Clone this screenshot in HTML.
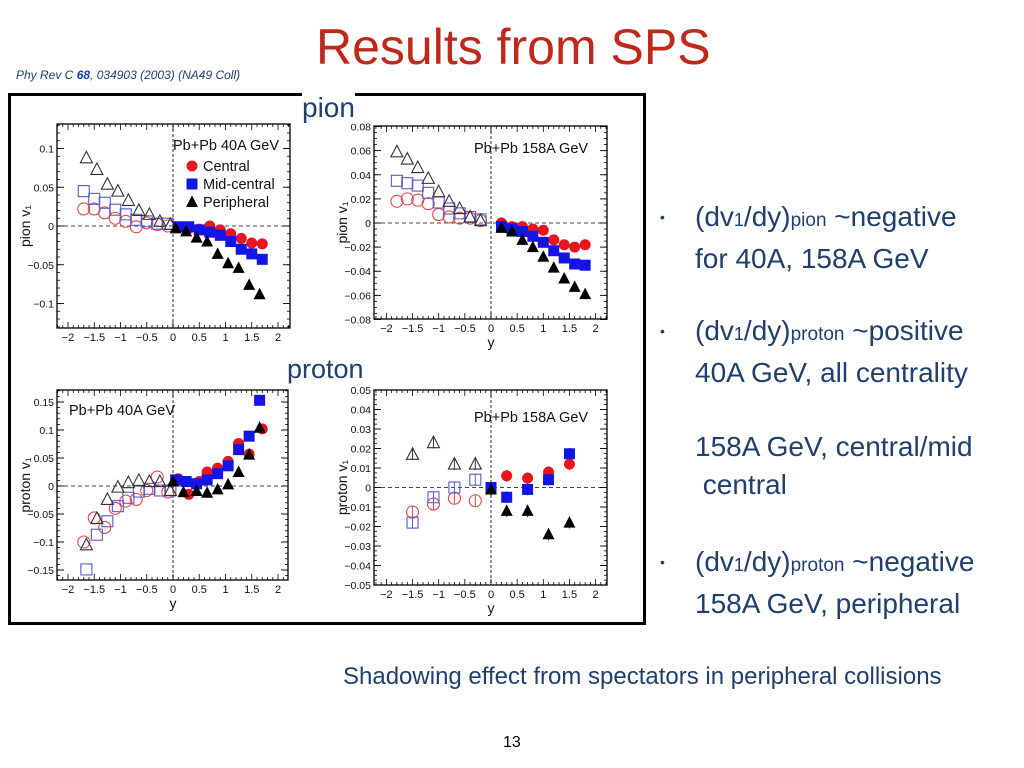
<!DOCTYPE html>
<html><head><meta charset="utf-8">
<style>
html,body{margin:0;padding:0;background:#fff;}
body{width:1024px;height:768px;position:relative;overflow:hidden;font-family:"Liberation Sans",Arial,sans-serif;}
.t{position:absolute;white-space:nowrap;}
.b{color:#1f3f6f;font-size:28px;line-height:38px;}
</style></head><body>
<div class="t" style="left:316px;top:18px;font-size:50px;color:#c0281c;">Results from SPS</div>
<div class="t" style="left:16px;top:68px;font-size:12px;font-style:italic;color:#1f3f6f;">Phy Rev C <b style="color:#1a3fbf">68</b>, 034903 (2003) (NA49 Coll)</div>
<div style="position:absolute;left:8px;top:93px;width:632px;height:526px;border:3px solid #000;"></div>
<svg id="fig" width="1024" height="768" style="position:absolute;left:0;top:0;"></svg>
<div class="t" style="left:302px;top:92px;font-size:28px;color:#1f3f6f;background:#fff;">pion</div>
<div class="t" style="left:287px;top:354px;font-size:27px;color:#1f3f6f;background:#fff;">proton</div>
<div class="t b" style="left:660px;top:198px;"><span style="font-size:14px;position:absolute;left:0;top:0">•</span><span style="margin-left:35px">(dv<span style="font-size:18px">1</span>/dy)<span style="font-size:19px">pion</span> ~negative</span><br><span style="margin-left:35px">for 40A, 158A GeV</span></div>
<div class="t b" style="left:660px;top:312px;"><span style="font-size:14px;position:absolute;left:0;top:0">•</span><span style="margin-left:35px">(dv<span style="font-size:18px">1</span>/dy)<span style="font-size:19px">proton</span> ~positive</span><br><span style="margin-left:35px">40A GeV, all centrality</span></div>
<div class="t b" style="left:695px;top:428px;">158A GeV, central/mid<br>&nbsp;central</div>
<div class="t b" style="left:660px;top:543px;"><span style="font-size:14px;position:absolute;left:0;top:0">•</span><span style="margin-left:35px">(dv<span style="font-size:18px">1</span>/dy)<span style="font-size:19px">proton</span> ~negative</span><br><span style="margin-left:35px">158A GeV, peripheral</span></div>
<div class="t" style="left:343px;top:663px;font-size:24px;color:#1f3f6f;">Shadowing effect from spectators in peripheral collisions</div>
<div class="t" style="left:503px;top:734px;font-size:16px;color:#000;">13</div>
<script>
// Panel 1: pion 40A
const p1CenX=[0.1,0.3,0.5,0.7,0.9,1.1,1.3,1.5,1.7];
const p1CenY=[-0.002,-0.003,-0.004,0.0,-0.005,-0.01,-0.016,-0.022,-0.023];
const p1MidX=[0.1,0.3,0.5,0.7,0.9,1.1,1.3,1.5,1.7];
const p1MidY=[-0.001,-0.001,-0.005,-0.008,-0.012,-0.02,-0.03,-0.036,-0.043];
const p1PerX=[0.05,0.25,0.45,0.65,0.85,1.05,1.25,1.45,1.65];
const p1PerY=[-0.003,-0.007,-0.015,-0.02,-0.036,-0.048,-0.054,-0.076,-0.088];
const p1oCenX=[-1.7,-1.5,-1.3,-1.1,-0.9,-0.7,-0.5,-0.3,-0.1];
const p1oCenY=[0.022,0.022,0.017,0.01,0.006,-0.001,0.004,0.002,0.0];
const p1oMidX=[-1.7,-1.5,-1.3,-1.1,-0.9,-0.7,-0.5,-0.3,-0.1];
const p1oMidY=[0.045,0.035,0.03,0.021,0.015,0.008,0.006,0.003,0.003];
const p1oPerX=[-1.65,-1.45,-1.25,-1.05,-0.85,-0.65,-0.45,-0.25,-0.05];
const p1oPerY=[0.088,0.073,0.054,0.045,0.033,0.02,0.015,0.006,0.002];
// Panel 2: pion 158A
const p2CenX=[0.2,0.4,0.6,0.8,1.0,1.2,1.4,1.6,1.8];
const p2CenY=[0.0,-0.003,-0.003,-0.005,-0.006,-0.014,-0.018,-0.02,-0.018];
const p2MidX=[0.2,0.4,0.6,0.8,1.0,1.2,1.4,1.6,1.8];
const p2MidY=[-0.003,-0.005,-0.007,-0.011,-0.016,-0.023,-0.029,-0.034,-0.035];
const p2PerX=[0.2,0.4,0.6,0.8,1.0,1.2,1.4,1.6,1.8];
const p2PerY=[-0.004,-0.007,-0.014,-0.02,-0.028,-0.037,-0.046,-0.053,-0.059];
const p2oCenX=[-1.8,-1.6,-1.4,-1.2,-1.0,-0.8,-0.6,-0.4,-0.2];
const p2oCenY=[0.018,0.02,0.019,0.016,0.007,0.005,0.004,0.004,0.002];
const p2oMidX=[-1.8,-1.6,-1.4,-1.2,-1.0,-0.8,-0.6,-0.4,-0.2];
const p2oMidY=[0.035,0.033,0.031,0.025,0.017,0.012,0.008,0.005,0.003];
const p2oPerX=[-1.8,-1.6,-1.4,-1.2,-1.0,-0.8,-0.6,-0.4,-0.2];
const p2oPerY=[0.059,0.053,0.046,0.037,0.026,0.018,0.012,0.005,0.002];
// Panel 3: proton 40A
const p3CenX=[0.1,0.3,0.5,0.65,0.85,1.05,1.25,1.45,1.7];
const p3CenY=[0.013,-0.015,0.008,0.025,0.032,0.044,0.076,0.057,0.102];
const p3MidX=[0.05,0.25,0.45,0.65,0.85,1.05,1.25,1.45,1.65];
const p3MidY=[0.011,0.008,0.004,0.011,0.022,0.036,0.065,0.089,0.153];
const p3PerX=[0.0,0.2,0.45,0.65,0.85,1.05,1.25,1.45,1.65];
const p3PerY=[0.008,-0.011,-0.009,-0.012,-0.006,0.003,0.025,0.056,0.104];
const p3oCenX=[-1.7,-1.5,-1.3,-1.1,-0.9,-0.7,-0.5,-0.3,-0.1];
const p3oCenY=[-0.1,-0.057,-0.074,-0.04,-0.027,-0.024,-0.008,0.016,-0.011];
const p3oMidX=[-1.65,-1.45,-1.25,-1.05,-0.85,-0.65,-0.45,-0.25,-0.05];
const p3oMidY=[-0.149,-0.087,-0.063,-0.036,-0.021,-0.01,-0.005,-0.008,-0.008];
const p3oPerX=[-1.65,-1.45,-1.25,-1.05,-0.85,-0.65,-0.45,-0.25,-0.05];
const p3oPerY=[-0.105,-0.058,-0.024,-0.002,0.006,0.01,0.008,0.008,-0.008];
// Panel 4: proton 158A
const p4CenX=[0.3,0.7,1.1,1.5];
const p4CenY=[0.006,0.0048,0.0079,0.012];
const p4MidX=[0.0,0.3,0.7,1.1,1.5];
const p4MidY=[0.0,-0.005,-0.001,0.004,0.0173];
const p4PerX=[0.0,0.3,0.7,1.1,1.5];
const p4PerY=[-0.001,-0.012,-0.012,-0.024,-0.018];
const p4oCenX=[-1.5,-1.1,-0.7,-0.3];
const p4oCenY=[-0.0126,-0.0085,-0.0055,-0.0068];
const p4oMidX=[-1.5,-1.1,-0.7,-0.3];
const p4oMidY=[-0.018,-0.005,0.0,0.004];
const p4oPerX=[-1.5,-1.1,-0.7,-0.3];
const p4oPerY=[0.017,0.023,0.012,0.012];
const xTickVals=[-2,-1.5,-1,-0.5,0,0.5,1,1.5,2];
const xTickLabels=["\u22122","\u22121.5","\u22121","\u22120.5","0","0.5","1","1.5","2"];
const p1YTicks=[-0.1,-0.05,0,0.05,0.1];
const p1YLabels=["\u22120.1","\u22120.05","0","0.05","0.1"];
const p2YTicks=[-0.08,-0.06,-0.04,-0.02,0,0.02,0.04,0.06,0.08];
const p2YLabels=["\u22120.08","\u22120.06","\u22120.04","\u22120.02","0","0.02","0.04","0.06","0.08"];
const p3YTicks=[-0.15,-0.1,-0.05,0,0.05,0.1,0.15];
const p3YLabels=["\u22120.15","\u22120.1","\u22120.05","0","0.05","0.1","0.15"];
const p4YTicks=[-0.05,-0.04,-0.03,-0.02,-0.01,0,0.01,0.02,0.03,0.04,0.05];
const p4YLabels=["\u22120.05","\u22120.04","\u22120.03","\u22120.02","\u22120.01","0","0.01","0.02","0.03","0.04","0.05"];

const NS="http://www.w3.org/2000/svg";
const svg=document.getElementById('fig');
function mk(tag,attrs,parent,text){const e=document.createElementNS(NS,tag);for(const k in attrs)e.setAttribute(k,attrs[k]);if(text!==undefined)e.textContent=text;(parent||svg).appendChild(e);return e;}

function panel(name,L,T,R,B,x0,xs,y0,ys,yT,yL,ytitle,label,lx,ly,series,err,showY,minorStep){
  const g=mk('g',{});
  
  
  const X=v=>x0+v*xs, Y=v=>y0-v*ys;
  const fr=mk('rect',{x:L,y:T,width:R-L,height:B-T,fill:'#fff',stroke:'#000','stroke-width':1.3},g);
  
  
  // zero lines
  mk('line',{x1:L,x2:R,y1:Y(0),y2:Y(0),stroke:'#444','stroke-dasharray':'4,3','stroke-width':0.9},g);
  mk('line',{x1:X(0),x2:X(0),y1:T,y2:B,stroke:'#666','stroke-dasharray':'3,2','stroke-width':1.4},g);
  // x ticks
  for(let v=-2.2;v<=2.21;v+=0.1){const x=X(+v.toFixed(1));if(x<L||x>R)continue;const major=Math.abs(v*2-Math.round(v*2))<1e-6;const len=major?6:3;
    mk('line',{x1:x,x2:x,y1:B,y2:B-len,stroke:'#000','stroke-width':0.8},g);mk('line',{x1:x,x2:x,y1:T,y2:T+len,stroke:'#000','stroke-width':0.8},g);}
  xTickVals.forEach((v,i)=>{const t=mk('text',{x:X(v),y:B+13,'font-size':11,'text-anchor':'middle',fill:'#111'},g,xTickLabels[i]);
    
    });
  // y ticks
  for(let k=Math.ceil((Y(0)-B)/ys/minorStep);k*minorStep<=(Y(0)-T)/ys+1e-9;k++){const y=Y(k*minorStep);
    mk('line',{x1:L,x2:L+3,y1:y,y2:y,stroke:'#000','stroke-width':0.8},g);mk('line',{x1:R,x2:R-3,y1:y,y2:y,stroke:'#000','stroke-width':0.8},g);}
  yT.forEach((v,i)=>{const y=Y(v);mk('line',{x1:L,x2:L+7,y1:y,y2:y,stroke:'#000','stroke-width':0.9},g);mk('line',{x1:R,x2:R-7,y1:y,y2:y,stroke:'#000','stroke-width':0.9},g);
    const t=mk('text',{x:L-3,y:y+4,'font-size':10.5,'text-anchor':'end',fill:'#111'},g,yL[i]);
    
    });
  const yt=mk('text',{x:0,y:0,'font-size':14,'text-anchor':'middle',fill:'#111',transform:`translate(${L-27},${(T+B)/2}) rotate(-90)`},g,ytitle);
  
  
  if(showY){const xt=mk('text',{x:X(0),y:B+28,'font-size':14,'text-anchor':'middle',fill:'#111'},g,'y');
    
    }
  const lb=mk('text',{x:lx,y:ly,'font-size':14.5,fill:'#111'},g,label);
  
  
  series.forEach(s=>{s.xs.forEach((xv,i)=>{const cx=X(xv),cy=Y(s.ys[i]);
    if(err){mk('line',{x1:cx,x2:cx,y1:Y(s.ys[i]+err),y2:Y(s.ys[i]-err),stroke:s.c,'stroke-width':1},g);}
    const m=marker(s.kind,s.open,s.c,cx,cy,g);
    
    });});
}
function marker(kind,open,c,cx,cy,g){
  const fill=open?'none':c, sw=open?1.1:0;
  if(kind==='c')return mk('circle',{cx:cx,cy:cy,r:open?6:5.5,fill:fill,stroke:c,'stroke-width':sw},g);
  if(kind==='s')return mk('rect',{x:cx-5.5,y:cy-5.5,width:11,height:11,fill:fill,stroke:c,'stroke-width':sw},g);
  return mk('polygon',{points:`${cx},${cy-6.5} ${cx-6},${cy+5} ${cx+6},${cy+5}`,fill:fill,stroke:c,'stroke-width':sw},g);
}
const RED='#e8161c',BLUE='#1414e6',ORED='#e04848',OBLUE='#5a5ad0',OBLK='#333';
function S(xs,ys,kind,open,c,name){return {xs:xs,ys:ys,kind:kind,open:open,c:c,name:name};}

panel('pion-40A-panel',57,124,290,328,173,52.5,226,775,p1YTicks,p1YLabels,'pion v\u2081','Pb+Pb 40A GeV',173,150,[
 S(p1oCenX,p1oCenY,'c',true,ORED,'central-open-point'),S(p1oMidX,p1oMidY,'s',true,OBLUE,'midcentral-open-point'),S(p1oPerX,p1oPerY,'t',true,OBLK,'peripheral-open-point'),
 S(p1CenX,p1CenY,'c',false,RED,'central-point'),S(p1MidX,p1MidY,'s',false,BLUE,'midcentral-point'),S(p1PerX,p1PerY,'t',false,'#000','peripheral-point')],0,false,0.01);
panel('pion-158A-panel',374,126,607,319,491,52.3,223,1206,p2YTicks,p2YLabels,'pion v\u2081','Pb+Pb 158A GeV',474,153,[
 S(p2oCenX,p2oCenY,'c',true,ORED,'central-open-point'),S(p2oMidX,p2oMidY,'s',true,OBLUE,'midcentral-open-point'),S(p2oPerX,p2oPerY,'t',true,OBLK,'peripheral-open-point'),
 S(p2CenX,p2CenY,'c',false,RED,'central-point'),S(p2MidX,p2MidY,'s',false,BLUE,'midcentral-point'),S(p2PerX,p2PerY,'t',false,'#000','peripheral-point')],0,true,0.005);
panel('proton-40A-panel',57,390,288,580,173,52.5,486,560,p3YTicks,p3YLabels,'proton v\u2081','Pb+Pb 40A GeV',69,415,[
 S(p3oCenX,p3oCenY,'c',true,ORED,'central-open-point'),S(p3oMidX,p3oMidY,'s',true,OBLUE,'midcentral-open-point'),S(p3oPerX,p3oPerY,'t',true,OBLK,'peripheral-open-point'),
 S(p3CenX,p3CenY,'c',false,RED,'central-point'),S(p3MidX,p3MidY,'s',false,BLUE,'midcentral-point'),S(p3PerX,p3PerY,'t',false,'#000','peripheral-point')],0,true,0.01);
panel('proton-158A-panel',374,390,607,585,491,52.3,487.5,1950,p4YTicks,p4YLabels,'proton v\u2081','Pb+Pb 158A GeV',474,422,[
 S(p4oCenX,p4oCenY,'c',true,ORED,'central-open-point'),S(p4oMidX,p4oMidY,'s',true,OBLUE,'midcentral-open-point'),S(p4oPerX,p4oPerY,'t',true,OBLK,'peripheral-open-point'),
 S(p4CenX,p4CenY,'c',false,RED,'central-point'),S(p4MidX,p4MidY,'s',false,BLUE,'midcentral-point'),S(p4PerX,p4PerY,'t',false,'#000','peripheral-point')],0.003,true,0.0025);

// legend in panel 1
const legNames=['Central','Mid-central','Peripheral'];
const legKinds=['c','s','t'];
const legCols=[RED,BLUE,'#000'];
legNames.forEach((n,i)=>{const y=166+i*18;
  const m=marker(legKinds[i],false,legCols[i],192,y,svg);
  
  
  const t=mk('text',{x:203,y:y+5,'font-size':14.5,fill:'#111'},svg,n);
  
  });
</script>
</body></html>
